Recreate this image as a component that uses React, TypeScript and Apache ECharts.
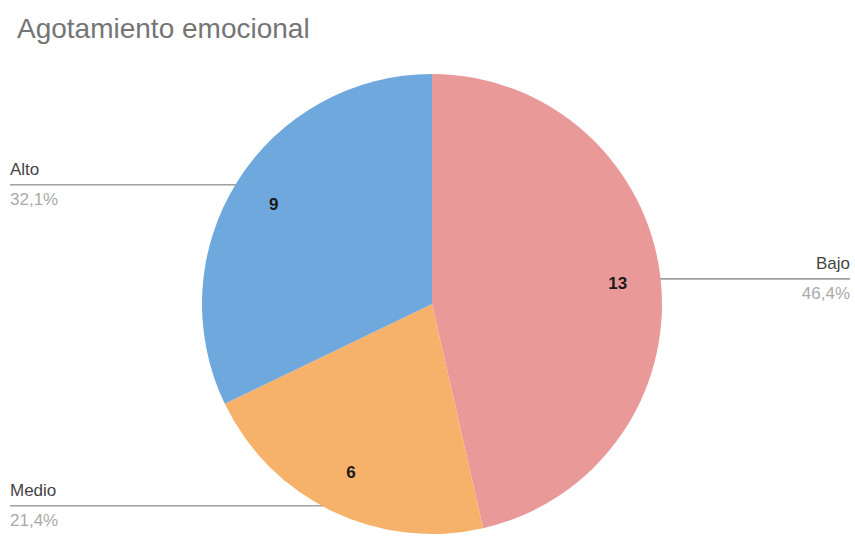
import React, { useEffect, useRef } from "react";
import * as echarts from "echarts";

const TITLE = "Agotamiento emocional";
const categories = ["Bajo", "Medio", "Alto"];
const values = [13, 6, 9];
const colors = ["#ea9999", "#f6b26b", "#6fa8dc"];

const W = 855;
const H = 540;
const CX = 432;
const CY = 304;
const R = 230;
const FONT = "'Liberation Sans', Arial, sans-serif";

function fmtPct(p: number) {
  return p.toFixed(1).replace(".", ",") + "%";
}

export default function App() {
  const ref = useRef<HTMLDivElement>(null);
  useEffect(() => {
    document.body.style.margin = "0";
    if (!ref.current) return;
    const chart = echarts.init(ref.current, null, { renderer: "svg" });
    const total = values.reduce((a, b) => a + b, 0);
    const data = categories.map((name, i) => ({
      name,
      value: values[i],
      itemStyle: { color: colors[i] },
    }));

    const midPoint = (idx: number) => {
      let cum = 0;
      for (let i = 0; i < idx; i++) cum += values[i];
      const frac = (cum + values[idx] / 2) / total;
      const ang = frac * Math.PI * 2;
      return [CX + Math.sin(ang) * R, CY - Math.cos(ang) * R];
    };

    chart.setOption({
      animation: false,
      backgroundColor: "#ffffff",
      title: {
        text: TITLE,
        left: 12,
        top: 9,
        textStyle: {
          color: "#757575",
          fontSize: 28,
          fontWeight: "normal",
          fontFamily: FONT,
        },
      },
      series: [
        {
          type: "pie",
          center: [CX, CY],
          radius: [0, R],
          startAngle: 90,
          clockwise: true,
          avoidLabelOverlap: false,
          data,
          label: {
            show: true,
            position: "outside",
            fontFamily: FONT,
            formatter: (p: any) => `{n|${p.name}}\n{p|${fmtPct(p.percent)}}`,
            rich: {
              n: { fontSize: 17, color: "#444444", lineHeight: 30, fontFamily: FONT },
              p: { fontSize: 17, color: "#aaaaaa", lineHeight: 30, fontFamily: FONT },
            },
          },
          labelLine: {
            show: true,
            length: 0,
            length2: 0,
            lineStyle: { color: "#a0a0a0", width: 1.6 },
          },
          labelLayout: (params: any) => {
            const pts = params.labelLinePoints;
            let sx: number, sy: number;
            if (pts && pts[0]) {
              sx = pts[0][0];
              sy = pts[0][1];
            } else {
              const m = midPoint(params.dataIndex);
              sx = m[0];
              sy = m[1];
            }
            const dx = sx - CX;
            const dy = sy - CY;
            const len = Math.hypot(dx, dy) || 1;
            const inset = 6;
            const x0 = sx - (dx / len) * inset;
            const y0 = sy - (dy / len) * inset;
            const isLeft = sx < CX;
            const edgeX = isLeft ? 10 : 850;
            return {
              x: edgeX,
              y: y0,
              align: isLeft ? "left" : "right",
              verticalAlign: "middle",
              labelLinePoints: [
                [x0, y0],
                [edgeX, y0],
                [edgeX, y0],
              ],
            };
          },
        },
        {
          type: "pie",
          center: [CX, CY],
          radius: [Math.round(R * 0.6), R],
          startAngle: 90,
          clockwise: true,
          silent: true,
          z: 3,
          data: categories.map((name, i) => ({ name, value: values[i] })),
          itemStyle: { color: "rgba(0,0,0,0)" },
          label: {
            show: true,
            position: "inside",
            formatter: "{c}",
            color: "#1a1a1a",
            fontSize: 17,
            fontWeight: "bold",
            fontFamily: FONT,
          },
          labelLine: { show: false },
        },
      ],
    });
    return () => chart.dispose();
  }, []);
  return <div ref={ref} style={{ width: W, height: H }} />;
}
